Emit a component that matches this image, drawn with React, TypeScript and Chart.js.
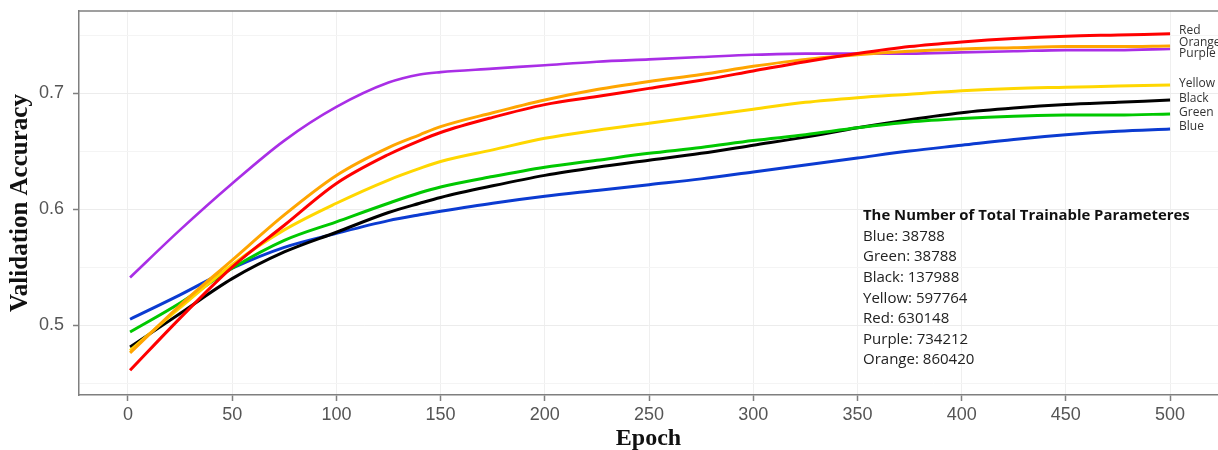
import React, { useEffect, useRef } from "react";
import { Chart, registerables } from "chart.js";

Chart.register(...registerables);

// ---------- data ----------
const epochs = [1, 25, 50, 75, 100, 125, 140, 150, 175, 200, 225, 250, 275, 300, 325, 350, 375, 400, 425, 450, 475, 500];

const purpleAcc = [0.541, 0.582, 0.622, 0.659, 0.688, 0.709, 0.716, 0.718, 0.721, 0.724, 0.727, 0.729, 0.731, 0.733, 0.734, 0.734, 0.734, 0.735, 0.736, 0.737, 0.737, 0.738];
const orangeAcc = [0.476, 0.517, 0.556, 0.595, 0.629, 0.653, 0.664, 0.671, 0.683, 0.694, 0.703, 0.71, 0.716, 0.723, 0.729, 0.733, 0.736, 0.738, 0.739, 0.74, 0.74, 0.7405];
const redAcc = [0.461, 0.506, 0.55, 0.586, 0.622, 0.647, 0.659, 0.666, 0.679, 0.69, 0.697, 0.704, 0.711, 0.719, 0.727, 0.734, 0.74, 0.744, 0.747, 0.749, 0.75, 0.751];
const yellowAcc = [0.478, 0.515, 0.552, 0.582, 0.605, 0.625, 0.635, 0.641, 0.651, 0.661, 0.668, 0.674, 0.68, 0.686, 0.692, 0.696, 0.699, 0.702, 0.704, 0.705, 0.706, 0.707];
const greenAcc = [0.494, 0.519, 0.549, 0.573, 0.589, 0.605, 0.614, 0.619, 0.628, 0.636, 0.642, 0.648, 0.653, 0.659, 0.664, 0.67, 0.675, 0.678, 0.68, 0.681, 0.681, 0.682];
const blackAcc = [0.481, 0.51, 0.54, 0.563, 0.58, 0.597, 0.605, 0.61, 0.62, 0.629, 0.636, 0.642, 0.648, 0.655, 0.662, 0.67, 0.677, 0.683, 0.687, 0.69, 0.692, 0.694];
const blueAcc = [0.505, 0.526, 0.549, 0.567, 0.579, 0.59, 0.595, 0.598, 0.605, 0.611, 0.616, 0.621, 0.626, 0.632, 0.638, 0.644, 0.65, 0.655, 0.66, 0.664, 0.667, 0.669];

const xTickValues = [0, 50, 100, 150, 200, 250, 300, 350, 400, 450, 500];
const yMajorTicks = [0.5, 0.6, 0.7];
const yMinorTicks = [0.45, 0.55, 0.65, 0.75];

const paramTitle = "The Number of Total Trainable Parameteres";
const paramLines = [
  "Blue: 38788",
  "Green: 38788",
  "Black: 137988",
  "Yellow: 597764",
  "Red: 630148",
  "Purple: 734212",
  "Orange: 860420",
];

// ---------- styles ----------
const seriesStyle: Record<string, { color: string; width: number; nudge: number }> = {
  Red: { color: "#ff0000", width: 3, nudge: -3 },
  Orange: { color: "#ffa500", width: 3, nudge: -3 },
  Purple: { color: "#a92ee6", width: 2.6, nudge: 5 },
  Yellow: { color: "#ffd700", width: 3, nudge: -1 },
  Black: { color: "#000000", width: 3, nudge: -1 },
  Green: { color: "#00c800", width: 3, nudge: -1 },
  Blue: { color: "#0b3bd1", width: 3, nudge: -2 },
};
const seriesData: Record<string, number[]> = {
  Red: redAcc,
  Orange: orangeAcc,
  Purple: purpleAcc,
  Yellow: yellowAcc,
  Black: blackAcc,
  Green: greenAcc,
  Blue: blueAcc,
};
// drawing order: first in list is drawn on top
const drawOrder = ["Red", "Orange", "Purple", "Yellow", "Green", "Black", "Blue"];

const FRAME = "#7f7f7f";
const TICK_FONT = { family: '"Liberation Sans", Arial, sans-serif', size: 18 };
const TITLE_FONT = { family: '"Liberation Serif", "Times New Roman", serif', size: 24, weight: "bold" as const };
const NOTE_FAMILY = '"Open Sans", Lato, sans-serif';

const framePlugin = {
  id: "frameTop",
  afterDatasetsDraw(chart: any) {
    const { ctx, chartArea } = chart;
    ctx.save();
    ctx.strokeStyle = FRAME;
    ctx.lineWidth = 1.5;
    ctx.beginPath();
    ctx.moveTo(chartArea.left, chartArea.top);
    ctx.lineTo(chartArea.right, chartArea.top);
    ctx.stroke();
    ctx.restore();
  },
};

function fitSize(ctx: CanvasRenderingContext2D, text: string, weight: string, target: number) {
  ctx.font = `${weight} 20px ${NOTE_FAMILY}`;
  const w = ctx.measureText(text).width;
  return (20 * target) / w;
}

const labelsPlugin = {
  id: "endLabels",
  afterDatasetsDraw(chart: any) {
    const { ctx } = chart;
    ctx.save();
    ctx.font = `12px ${NOTE_FAMILY}`;
    ctx.fillStyle = "#333333";
    ctx.textBaseline = "middle";
    ctx.textAlign = "left";
    chart.data.datasets.forEach((ds: any, i: number) => {
      const meta = chart.getDatasetMeta(i);
      const last = meta.data[meta.data.length - 1];
      const st = seriesStyle[ds.label];
      ctx.fillText(ds.label, last.x + 9, last.y + st.nudge);
    });
    // parameter annotation
    const titleSize = fitSize(ctx, paramTitle, "bold", 327);
    const lineSize = fitSize(ctx, paramLines[0], "normal", 82);
    const x0 = 863;
    let y0 = 216;
    ctx.fillStyle = "#111111";
    ctx.font = `bold ${titleSize.toFixed(2)}px ${NOTE_FAMILY}`;
    ctx.fillText(paramTitle, x0, y0);
    ctx.font = `normal ${lineSize.toFixed(2)}px ${NOTE_FAMILY}`;
    ctx.fillStyle = "#222222";
    paramLines.forEach((t) => {
      y0 += 20.6;
      ctx.fillText(t, x0, y0);
    });
    ctx.restore();
  },
};

export default function App() {
  const ref = useRef<HTMLCanvasElement>(null);

  useEffect(() => {
    document.body.style.margin = "0";
    const canvas = ref.current!;
    const datasets = drawOrder.map((name) => ({
      label: name,
      data: epochs.map((e, i) => ({ x: e, y: seriesData[name][i] })),
      borderColor: seriesStyle[name].color,
      backgroundColor: seriesStyle[name].color,
      borderWidth: seriesStyle[name].width,
      pointRadius: 0,
      cubicInterpolationMode: "monotone" as const,
      fill: false,
    }));

    const chart = new Chart(canvas, {
      type: "line",
      data: { datasets },
      options: {
        animation: false,
        responsive: false,
        devicePixelRatio: 1,
        layout: { padding: { top: 11, left: 0, right: 0, bottom: 0 } },
        plugins: {
          legend: { display: false },
          tooltip: { enabled: false },
        },
        scales: {
          x: {
            type: "linear",
            min: -23.5,
            max: 523,
            afterBuildTicks: (s: any) => {
              s.ticks = xTickValues.map((v) => ({ value: v }));
            },
            afterFit: (s: any) => {
              s.height = 55;
              s.paddingLeft = 0;
              s.paddingRight = 0;
            },
            ticks: {
              color: "#555555",
              font: TICK_FONT,
              padding: 3,
              autoSkip: false,
              maxRotation: 0,
              callback: (v: any) => String(v),
            },
            grid: {
              color: "#efefef",
              lineWidth: 1,
              tickColor: FRAME,
              tickLength: 6,
              tickWidth: 1.5,
            },
            border: { display: true, color: FRAME, width: 1.5 },
            title: {
              display: true,
              text: "Epoch",
              color: "#111111",
              font: TITLE_FONT,
              padding: { top: 0, bottom: -3 },
            },
          },
          y: {
            type: "linear",
            min: 0.4397,
            max: 0.7707,
            afterBuildTicks: (s: any) => {
              s.ticks = [...yMinorTicks, ...yMajorTicks]
                .sort((a, b) => a - b)
                .map((v) => ({ value: v }));
            },
            afterFit: (s: any) => {
              s.width = 79;
              s.paddingTop = 0;
              s.paddingBottom = 0;
            },
            ticks: {
              color: "#555555",
              font: TICK_FONT,
              padding: 9,
              autoSkip: false,
              callback: (v: any) =>
                yMajorTicks.some((m) => Math.abs(m - v) < 1e-9) ? Number(v).toFixed(1) : "",
            },
            grid: {
              color: (c: any) =>
                yMajorTicks.some((m) => Math.abs(m - c.tick.value) < 1e-9) ? "#ececec" : "#f4f4f4",
              lineWidth: 1,
              tickColor: (c: any) =>
                yMajorTicks.some((m) => Math.abs(m - c.tick.value) < 1e-9) ? FRAME : "rgba(0,0,0,0)",
              tickLength: 6,
              tickWidth: 1.5,
            },
            border: { display: true, color: FRAME, width: 1.5 },
            title: {
              display: true,
              text: "Validation Accuracy",
              color: "#111111",
              font: { ...TITLE_FONT, size: 25 },
              padding: { top: 6, bottom: 0 },
            },
          },
        },
      },
      plugins: [framePlugin, labelsPlugin],
    });
    return () => chart.destroy();
  }, []);

  return (
    <div style={{ width: 1218, height: 450, position: "relative", background: "#ffffff", overflow: "hidden" }}>
      <canvas ref={ref} width={1218} height={450} style={{ display: "block" }} />
    </div>
  );
}
